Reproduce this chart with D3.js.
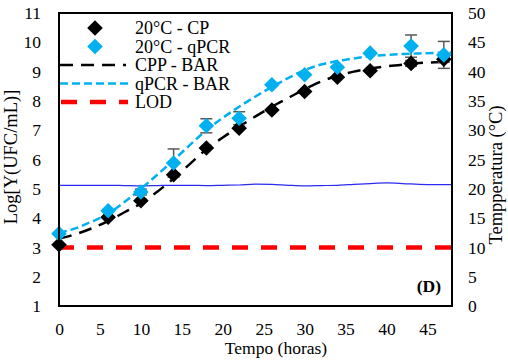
<!DOCTYPE html>
<html><head><meta charset="utf-8">
<script src="https://cdn.jsdelivr.net/npm/d3@7"></script>
<style>
html,body{margin:0;padding:0;background:#fff;}
svg{display:block;}
svg text{font-family:"Liberation Serif","Times New Roman",Times,"DejaVu Serif",serif !important;}
</style></head>
<body>
<svg id="chart" width="508" height="364"></svg>
<script>
// ---- data ----
const hours = [0, 6, 10, 14, 18, 22, 26, 30, 34, 38, 43, 47];
const cpValues = [3.09, 4.03, 4.59, 5.48, 6.39, 7.07, 7.69, 8.32, 8.81, 9.03, 9.28, 9.42];
const qpcrValues = [3.47, 4.25, 4.89, 5.88, 7.15, 7.41, 8.55, 8.89, 9.15, 9.63, 9.87, 9.57];
const qpcrErr = [0.05, 0.05, 0.1, 0.48, 0.24, 0.22, 0.05, 0.05, 0.05, 0.05, 0.38, 0.46];
const cpErr = [0, 0, 0, 0, 0, 0, 0, 0, 0, 0, 0.1, 0.1];
const fitHours = [0, 2, 4, 6, 8, 10, 12, 14, 16, 18, 20, 22, 24, 26, 28, 30, 32, 34, 36, 38, 40, 42, 44, 46, 48];
const cppFit = [3.3, 3.45, 3.65, 3.9, 4.2, 4.5, 4.9, 5.35, 5.85, 6.35, 6.75, 7.12, 7.47, 7.8, 8.1, 8.4, 8.66, 8.86, 9.0, 9.1, 9.18, 9.24, 9.29, 9.32, 9.34];
const qpcrFit = [3.5, 3.65, 3.88, 4.15, 4.55, 5.0, 5.48, 5.98, 6.5, 7.0, 7.42, 7.8, 8.15, 8.48, 8.78, 9.05, 9.24, 9.36, 9.45, 9.52, 9.57, 9.6, 9.62, 9.64, 9.65];
const tempHours = [0, 2, 4, 6, 8, 10, 12, 14, 16, 18, 20, 22, 24, 26, 28, 30, 32, 34, 36, 38, 40, 42, 44, 46, 48];
const tempValues = [20.6, 20.6, 20.6, 20.6, 20.55, 20.5, 20.55, 20.6, 20.6, 20.55, 20.6, 20.65, 20.8, 20.75, 20.6, 20.5, 20.55, 20.6, 20.75, 20.9, 21.0, 20.9, 20.75, 20.7, 20.7];
const lodValue = 3;
const xTicks = [0, 5, 10, 15, 20, 25, 30, 35, 40, 45];
const yTicks = [1, 2, 3, 4, 5, 6, 7, 8, 9, 10, 11];
const y2Ticks = [0, 5, 10, 15, 20, 25, 30, 35, 40, 45, 50];
const legendLabels = ["20°C - CP", "20°C - qPCR", "CPP - BAR", "qPCR - BAR", "LOD"];

// ---- layout ----
const L = 59, R = 452, T = 13, B = 306;
const BLUE = "#00b0f0";
const svg = d3.select("#chart");
const x = d3.scaleLinear().domain([0, 48]).range([L, R]);
const y = d3.scaleLinear().domain([1, 11]).range([B, T]);
const y2 = d3.scaleLinear().domain([0, 50]).range([B, T]);

// axes (labels only, no tick marks)
const fs = 17.5;
const xAxis = svg.append("g").attr("transform", `translate(0,${B})`)
  .call(d3.axisBottom(x).tickValues(xTicks).tickSize(0).tickPadding(17));
const yAxis = svg.append("g").attr("transform", `translate(${L},0)`)
  .call(d3.axisLeft(y).tickValues(yTicks).tickSize(0).tickPadding(18));
const y2Axis = svg.append("g").attr("transform", `translate(${R},0)`)
  .call(d3.axisRight(y2).tickValues(y2Ticks).tickSize(0).tickPadding(16));
[xAxis, yAxis, y2Axis].forEach(a => {
  a.select(".domain").remove();
  a.selectAll("text").attr("font-size", fs).attr("fill", "#000");
});

// temperature line
svg.append("path")
  .datum(tempHours.map((h, i) => [h, tempValues[i]]))
  .attr("fill", "none").attr("stroke", "#2b2bf0").attr("stroke-width", 1.2)
  .attr("d", d3.line().x(d => x(d[0])).y(d => y2(d[1])).curve(d3.curveMonotoneX));

// LOD line
svg.append("line")
  .attr("x1", x(0)).attr("x2", x(48)).attr("y1", y(lodValue)).attr("y2", y(lodValue))
  .attr("stroke", "#ff0000").attr("stroke-width", 4.5)
  .attr("stroke-dasharray", "16,13").attr("stroke-dashoffset", 1);

// fitted curves
const fitLine = d3.line().x(d => x(d[0])).y(d => y(d[1])).curve(d3.curveMonotoneX);
svg.append("path").datum(fitHours.map((h, i) => [h, cppFit[i]]))
  .attr("fill", "none").attr("stroke", "#000").attr("stroke-width", 2.5)
  .attr("stroke-dasharray", "13,8").attr("d", fitLine);
svg.append("path").datum(fitHours.map((h, i) => [h, qpcrFit[i]]))
  .attr("fill", "none").attr("stroke", BLUE).attr("stroke-width", 2.5)
  .attr("stroke-dasharray", "8,4").attr("d", fitLine);

// error bars
function errorBars(vals, errs) {
  const g = svg.append("g").attr("stroke", "#595959").attr("stroke-width", 1.5);
  hours.forEach((h, i) => {
    if (errs[i] <= 0.06) return;
    const cx = x(h), y1 = y(vals[i] + errs[i]), y0 = y(vals[i] - errs[i]);
    g.append("line").attr("x1", cx).attr("x2", cx).attr("y1", y1).attr("y2", y0);
    g.append("line").attr("x1", cx - 6).attr("x2", cx + 6).attr("y1", y1).attr("y2", y1);
    g.append("line").attr("x1", cx - 6).attr("x2", cx + 6).attr("y1", y0).attr("y2", y0);
  });
}
errorBars(cpValues, cpErr);
errorBars(qpcrValues, qpcrErr);

// markers
const dm = 7.8;
const diamond = `M0,${-dm}L${dm},0L0,${dm}L${-dm},0Z`;
svg.append("g").selectAll("path").data(hours.map((h, i) => [h, cpValues[i]])).join("path")
  .attr("d", diamond).attr("fill", "#000")
  .attr("transform", d => `translate(${x(d[0])},${y(d[1])})`);
svg.append("g").selectAll("path").data(hours.map((h, i) => [h, qpcrValues[i]])).join("path")
  .attr("d", diamond).attr("fill", BLUE)
  .attr("transform", d => `translate(${x(d[0])},${y(d[1])})`);

// plot frame
svg.append("rect").attr("x", L).attr("y", T).attr("width", R - L).attr("height", B - T)
  .attr("fill", "none").attr("stroke", "#000").attr("stroke-width", 2);

// legend
const lg = svg.append("g").attr("font-size", 18);
const rowY = [28, 46.5, 65, 83.5, 102];
lg.append("path").attr("d", diamond).attr("fill", "#000").attr("transform", `translate(95,${rowY[0]})`);
lg.append("path").attr("d", diamond).attr("fill", BLUE).attr("transform", `translate(95,${rowY[1]})`);
lg.append("line").attr("x1", 60).attr("x2", 126).attr("y1", rowY[2]).attr("y2", rowY[2])
  .attr("stroke", "#000").attr("stroke-width", 2.5).attr("stroke-dasharray", "13,8");
lg.append("line").attr("x1", 60).attr("x2", 128).attr("y1", rowY[3]).attr("y2", rowY[3])
  .attr("stroke", BLUE).attr("stroke-width", 2.5).attr("stroke-dasharray", "8,4");
lg.append("line").attr("x1", 59).attr("x2", 128).attr("y1", rowY[4]).attr("y2", rowY[4])
  .attr("stroke", "#ff0000").attr("stroke-width", 4.5).attr("stroke-dasharray", "16,13").attr("stroke-dashoffset", -2);
legendLabels.forEach((t, i) => {
  lg.append("text").attr("x", 135).attr("y", rowY[i]).attr("dy", "0.34em").text(t);
});

// panel label
svg.append("text").attr("x", 441).attr("y", 292).attr("text-anchor", "end")
  .attr("font-size", 17.5).attr("font-weight", "bold").text("(D)");

// axis titles
svg.append("text").attr("x", 276).attr("y", 354).attr("text-anchor", "middle")
  .attr("font-size", 17.5).text("Tempo (horas)");
svg.append("text").attr("transform", "translate(17,157) rotate(-90)").attr("text-anchor", "middle")
  .attr("font-size", 18.5).text("Log[Y(UFC/mL)]");
svg.append("text").attr("transform", "translate(502,175) rotate(-90)").attr("text-anchor", "middle")
  .attr("font-size", 18.5).text("Tempperatura (°C)");
</script>
</body></html>
